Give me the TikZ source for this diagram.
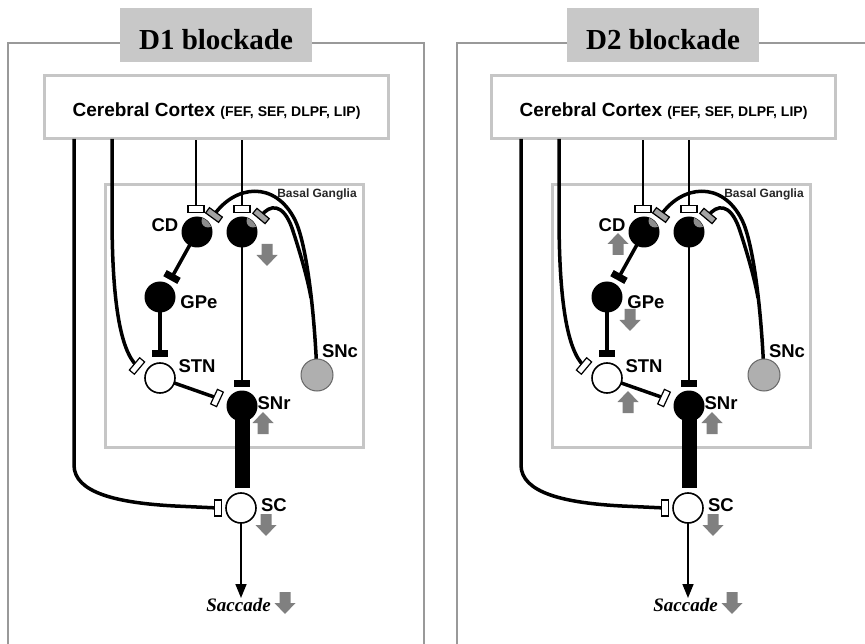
\documentclass[tikz,border=0pt]{standalone}
\usepackage{fontspec}
\setmainfont{Liberation Serif}
\setsansfont{Liberation Sans}
\usetikzlibrary{arrows.meta}
\pgfdeclarelayer{background}
\pgfdeclarelayer{lines}
\pgfsetlayers{background,lines,main}
\definecolor{arrowgray}{HTML}{808080}
\definecolor{titlegray}{HTML}{C8C8C8}
\definecolor{boxgray}{HTML}{C6C6C6}
\definecolor{framegray}{HTML}{999999}
\definecolor{sncgray}{HTML}{AFAFAF}
\definecolor{dagray}{HTML}{8C8C8C}
\tikzset{
 thickline/.style={line width=3.5pt},
 midline/.style={line width=2.8pt},
 thinline/.style={line width=1.6pt},
 neuronb/.style={circle, fill=black, minimum size=31pt, inner sep=0pt},
 neuronw/.style={circle, draw=black, fill=white, line width=1.6pt, minimum size=30pt, inner sep=0pt},
 neuronsnc/.style={circle, draw=black!60, fill=sncgray, line width=1pt, minimum size=32pt, inner sep=0pt},
 exsyn/.style={rectangle, draw=black, fill=white, line width=1.2pt, minimum width=16pt, minimum height=6.5pt, inner sep=0pt},
 dasyn/.style={rectangle, draw=black, fill=dagray!80, line width=1.2pt, minimum width=16pt, minimum height=6.5pt, inner sep=0pt},
 inhbar/.style={rectangle, fill=black, minimum width=16pt, minimum height=7pt, inner sep=0pt},
 lab/.style={font=\sffamily\bfseries\fontsize{18.5}{21}\selectfont, inner sep=0pt},
 gdown/.pic={\fill[arrowgray] (-5.5,-11) -- (5.5,-11) -- (5.5,0) -- (10.5,0) -- (0,11) -- (-10.5,0) -- (-5.5,0) -- cycle;},
 gup/.pic={\fill[arrowgray] (-5.5,11) -- (5.5,11) -- (5.5,0) -- (10.5,0) -- (0,-11) -- (-10.5,0) -- (-5.5,0) -- cycle;},
}
\newcommand\drawpanel[1]{%
 \begin{pgfonlayer}{background}
  \node[draw=boxgray, line width=3pt, minimum width=258pt, minimum height=262pt, inner sep=0pt] (bg) at (234,316) {};
  \node[fill=titlegray, minimum width=192pt, minimum height=54pt, inner sep=0pt] (tbox) at (216,35) {};
  \node[draw=boxgray, fill=white, line width=3pt, minimum width=344pt, minimum height=63pt, inner sep=0pt] (ctx) at (216,107.5) {};
 \end{pgfonlayer}
 \node[anchor=base, font=\rmfamily\bfseries\fontsize{29}{32}\selectfont, inner sep=0pt] (ttl) at (216,50) {#1};
 \node[anchor=base, font=\sffamily\bfseries, inner sep=0pt] (ctxt) at (216.5,117)
   {{\fontsize{19}{22}\selectfont Cerebral Cortex\ }{\fontsize{14}{16}\selectfont (FEF, SEF, DLPF, LIP)}};
 \node[font=\sffamily\bfseries\fontsize{12}{14}\selectfont, text=black!85, inner sep=0pt] (bgl) at (317,194) {Basal Ganglia};
 % neurons
 \node[neuronb] (CD) at (197,232) {};
 \node[neuronb] (S2) at (242,232) {};
 \node[neuronb] (GPe) at (160,297) {};
 \node[neuronw] (STN) at (160,378) {};
 \node[neuronsnc] (SNc) at (317,375) {};
 \node[neuronb] (SNr) at (242,406) {};
 \node[neuronw] (SC) at (241,508) {};
 \begin{scope}
  \clip (CD.center) circle (15pt);
  \fill[dagray] (208,221) circle (6.5pt);
 \end{scope}
 \begin{scope}
  \clip (S2.center) circle (15pt);
  \fill[dagray] (253,221) circle (6.5pt);
 \end{scope}
 % synapses
 \node[exsyn] (exCD) at (196,209) {};
 \node[exsyn] (exS2) at (242,209) {};
 \node[dasyn, rotate=-36] (daCD) at (214,215) {};
 \node[dasyn, rotate=-40] (daS2) at (261,216) {};
 \node[inhbar, rotate=-29] (barGPe) at (172,277) {};
 \node[inhbar] (barSTN) at (160,354) {};
 \node[exsyn, rotate=50] (synSTN) at (137,366) {};
 \node[exsyn, rotate=65] (synSNr) at (217,398) {};
 \node[inhbar] (barSNr) at (242,383) {};
 \node[exsyn, rotate=90] (synSC) at (218,508) {};
 \coordinate (c1) at (74,139);
 \coordinate (c2) at (112,139);
 \coordinate (scin) at (242,488);
 \coordinate (sacend) at (241,598);
 % labels
 \node[lab] (lCD) at (165,225) {CD};
 \node[lab] (lGPe) at (199,302) {GPe};
 \node[lab] (lSTN) at (197,366) {STN};
 \node[lab] (lSNr) at (274,403) {SNr};
 \node[lab] (lSNc) at (340,351) {SNc};
 \node[lab] (lSC) at (274,505) {SC};
 \node[anchor=base, font=\rmfamily\bfseries\itshape\fontsize{19}{22}\selectfont, inner sep=0pt] (sac) at (238.5,611) {Saccade};
 % connectors
 \begin{pgfonlayer}{lines}
  \draw[thinline] (ctx.south -| exCD) -- (exCD);
  \draw[thinline] (ctx.south -| exS2) -- (exS2);
  \draw[thickline] (c2) -- (112,215) .. controls (112,300) and (120,350) .. (synSTN.center);
  \draw[thickline] (c1) -- (74,465) .. controls (74,493) and (118,503) .. (175,506) -- (synSC.center);
  \draw[thickline] (CD.center) -- (barGPe.center);
  \draw[thickline] (GPe.center) -- (barSTN.center);
  \draw[thickline] (STN.center) -- (synSNr.center);
  \draw[midline] (S2.center) -- (barSNr.center);
  \draw[line width=15pt] (SNr.center) -- (scin);
  \draw[thickline] (daCD.center) .. controls (235,185) and (275,180) .. (295,220) .. controls (305,240) and (314,300) .. (SNc.center);
  \draw[thickline] (daS2.center) .. controls (270,204) and (283,203) .. (292,228) .. controls (300,252) and (308,280) .. (311,298);
  \draw[thinline, -{Triangle[length=14pt,width=11pt]}] (SC.center) -- (sacend);
 \end{pgfonlayer}
}
\begin{document}
\begin{tikzpicture}[x=1pt,y=-1pt]
\useasboundingbox (0,0) rectangle (865,644);
\begin{pgfonlayer}{background}
 \fill[white] (0,0) rectangle (865,644);
 \draw[framegray, line width=1.5pt] (8,644) -- (8,43) -- (424,43) -- (424,644);
 \draw[framegray, line width=1.5pt] (457,644) -- (457,43) -- (865,43);
\end{pgfonlayer}
\begin{scope}[name prefix=L]
 \drawpanel{D1 blockade}
 \pic at (267,255) {gdown};
 \pic at (263,423) {gup};
 \pic at (266,525) {gdown};
 \pic at (285,603) {gdown};
\end{scope}
\begin{scope}[xshift=447pt, name prefix=R]
 \drawpanel{D2 blockade}
 \pic at (171,244) {gup};
 \pic at (183,320) {gdown};
 \pic at (181,402) {gup};
 \pic at (265,423) {gup};
 \pic at (266,525) {gdown};
 \pic at (285,603) {gdown};
\end{scope}
\end{tikzpicture}
\end{document}
